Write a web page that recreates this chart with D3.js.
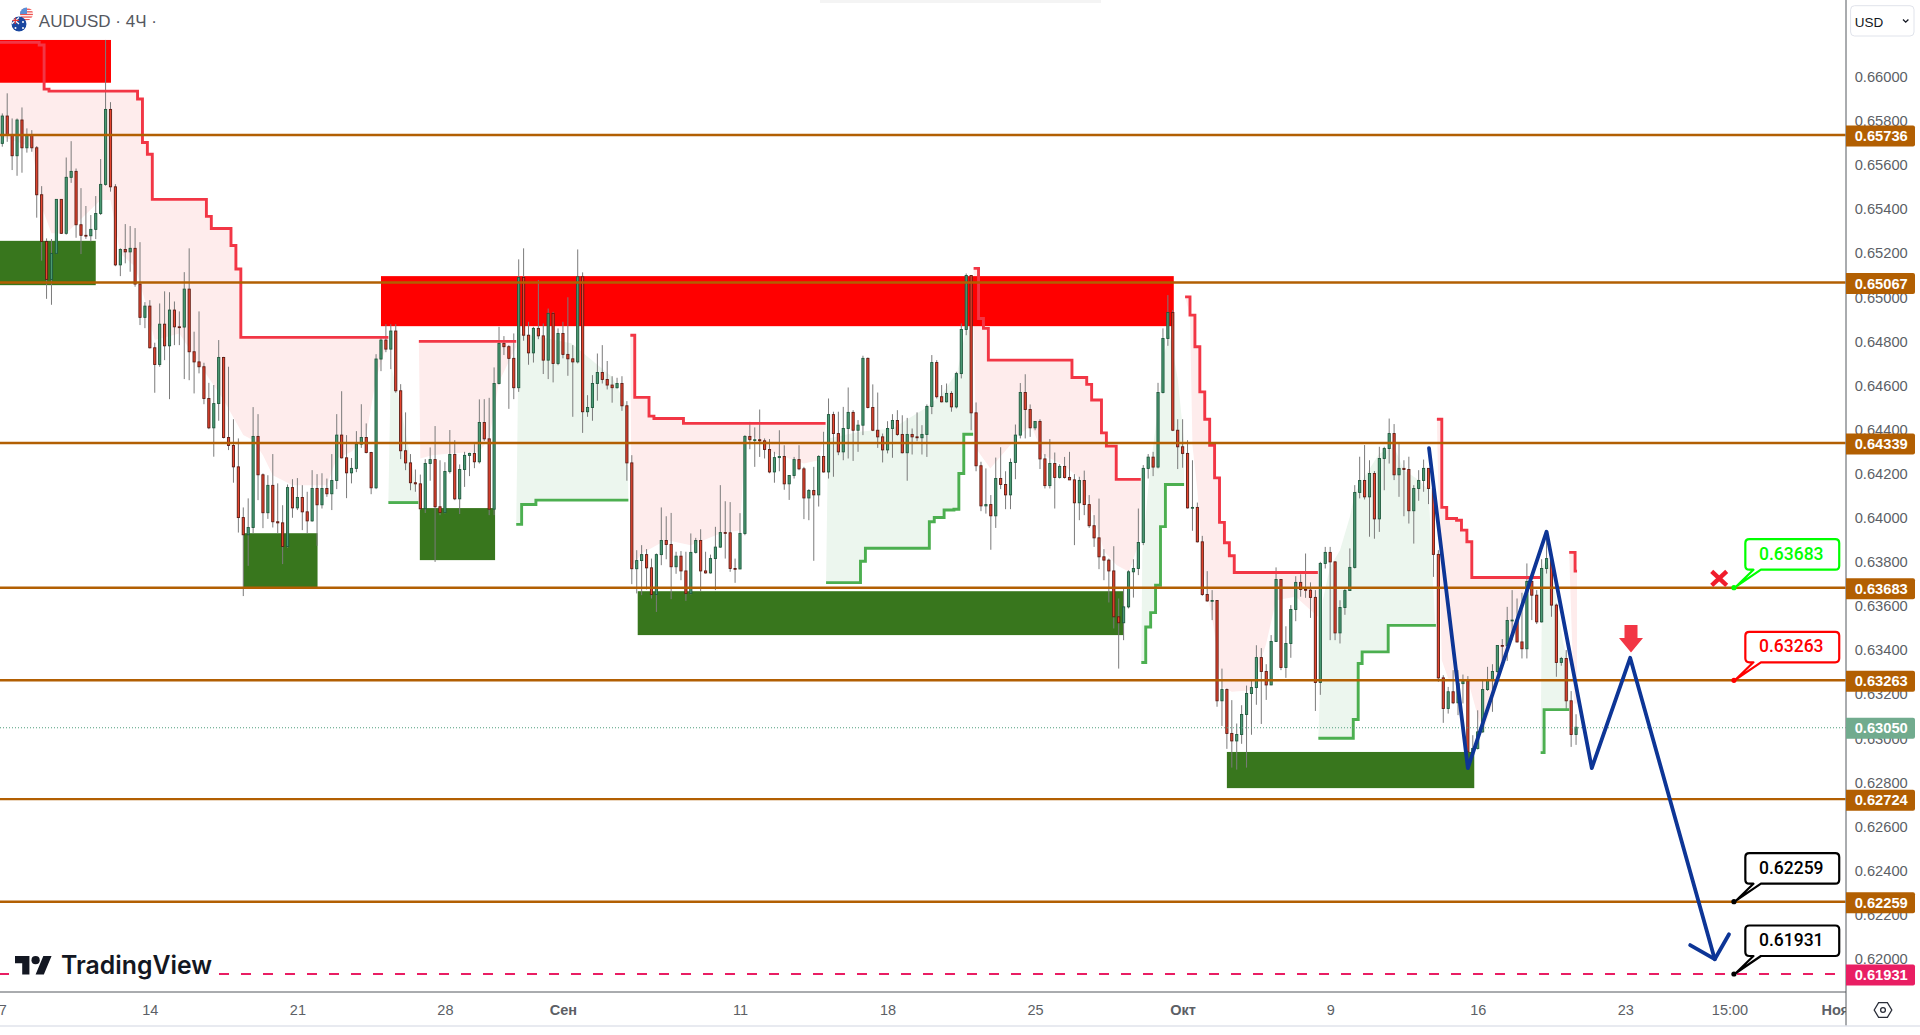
<!DOCTYPE html>
<html><head><meta charset="utf-8">
<script src="https://cdn.jsdelivr.net/npm/d3@7/dist/d3.min.js"></script>
<style>
html,body{margin:0;padding:0;background:#fff;overflow:hidden}
svg{display:block;font-family:"Liberation Sans",Arial,sans-serif}
</style></head><body><svg id="c" width="1920" height="1035"></svg>
<script>
// All prices are in units of 0.00001 (65736 = 0.65736). Bars are indexed in 4-hour steps.
const firstOpen = 65698;
const closes = [
65822,65736,65642,65804,65678,65736,65678,65465,65253,65081,
65199,65444,65290,65544,65571,65329,65281,65279,65308,65380,
65512,65852,65501,65147,65217,65206,65222,65060,64909,64960,
64771,64695,64878,64780,64942,64866,64865,65037,64753,64707,
64685,64541,64408,64518,64727,64364,64328,64231,64001,63923,
63956,64369,64195,64023,64147,63982,63977,63870,64137,64045,
64092,64027,63986,64133,64059,64133,64109,64169,64375,64272,
64204,64224,64334,64364,64296,64136,64720,64806,64765,64847,
64576,64304,64249,64159,64154,64041,64246,64264,64050,64024,
64210,64287,64086,64219,64283,64292,64254,64432,64358,64039,
64609,64791,64776,64723,64590,65090,64828,64748,64859,64825,
64715,64927,64700,64836,64741,64721,64707,65093,64481,64500,
64609,64659,64627,64602,64590,64609,64508,64249,63769,63806,
63833,63773,63652,63833,63897,63879,63778,63826,63759,63657,
63843,63897,63759,63750,63815,63867,63933,63932,63770,63768,
63929,64369,64354,64354,64349,64310,64208,64273,64278,64154,
64192,64264,64222,64090,64124,64104,64278,64208,64468,64382,
64299,64405,64478,64397,64420,64723,64500,64397,64367,64308,
64405,64441,64378,64295,64378,64367,64363,64378,64505,64704,
64549,64526,64564,64503,64654,64854,65099,64476,64236,64054,
64060,64009,64178,64151,64104,64251,64375,64568,64491,64408,
64437,64267,64146,64246,64183,64233,64183,64172,64068,64169,
64060,63964,63909,63823,63808,63759,63551,63524,63596,63755,
63770,63888,64224,64275,64230,64568,64813,64931,64397,64322,
64292,64045,64047,63891,63652,63623,63625,63170,63221,63022,
62988,63017,63108,63203,63230,63366,63303,63242,63439,63720,
63321,63430,63584,63707,63675,63672,63639,63253,63793,63843,
63800,63478,63593,63670,63775,64115,64169,64095,64201,63995,
64269,64314,64382,64195,64224,64219,64032,64133,64169,64224,
64133,63834,63274,63135,63211,63161,63248,63259,62938,62954,
63029,63221,63264,63303,63421,63419,63534,63536,63437,63406,
63711,63649,63528,63770,63815,63604,63344,63362,63170,63017,63050];
const highs = [
65834,65925,65811,65811,65861,65766,65758,65686,65504,65267,
65264,65444,65444,65634,65708,65584,65495,65414,65373,65459,
65627,66167,65885,65513,65222,65332,65323,65314,65250,64978,
64987,64794,64972,65027,65023,64981,64936,65114,65222,64844,
64936,64703,64612,64602,64806,64730,64685,64447,64360,64047,
64088,64502,64470,64201,64193,64289,64156,64057,64151,64175,
64180,64148,64118,64216,64198,64202,64178,64289,64470,64574,
64375,64271,64393,64515,64428,64299,64742,64824,64878,64878,
64878,64606,64478,64289,64219,64196,64266,64319,64416,64261,
64252,64398,64352,64242,64299,64295,64334,64537,64538,64544,
64682,64866,64824,64783,64836,65172,65222,64889,64866,65078,
64881,64949,64934,64859,64889,65000,64783,65217,65113,64556,
64647,64745,64783,64711,64642,64635,64642,64529,64284,63853,
63876,63858,63815,63838,64047,64007,64022,63846,63849,63846,
63929,63909,63948,63846,63833,63959,64148,64075,64071,63815,
64021,64375,64435,64410,64491,64360,64357,64299,64397,64329,
64193,64276,64329,64231,64130,64231,64284,64390,64541,64481,
64481,64503,64591,64488,64443,64735,64727,64605,64568,64382,
64438,64470,64488,64465,64453,64405,64478,64420,64514,64738,
64715,64602,64609,64574,64662,64881,65108,65099,64523,64254,
64224,64103,64273,64320,64211,64269,64423,64611,64651,64514,
64437,64447,64289,64357,64296,64243,64276,64299,64198,64186,
64214,64103,64012,64087,63858,63815,63871,63634,63679,63762,
63812,64042,64239,64289,64299,64612,64859,65010,64942,64447,
64447,64352,64261,64069,63918,63758,63672,63626,63316,63226,
63173,63067,63150,63239,63260,63422,63409,63336,63468,63775,
63722,63508,63604,63735,63744,63838,63707,63672,63800,63868,
63868,63803,63626,63679,63861,64148,64277,64330,64261,64212,
64322,64322,64450,64425,64337,64261,64277,64148,64216,64264,
64224,64133,63853,63286,63233,63309,63309,63289,63282,63014,
63127,63264,63324,63336,63422,63450,63596,63672,63634,63660,
63793,63714,63672,63812,63944,63823,63611,63369,63400,63214,63109];
const lows = [
65683,65705,65577,65551,65565,65656,65660,65361,65166,64993,
64966,65196,65287,65284,65519,65270,65196,65265,65253,65264,
65373,65506,65479,65141,65096,65154,65116,65048,64874,64860,
64768,64567,64685,64715,64538,64783,64783,64629,64624,64564,
64655,64515,64402,64277,64440,64360,64307,64159,63933,63645,
63782,63929,64080,63953,63995,63956,63929,63790,63864,64000,
64035,63944,63929,63982,63873,64042,64095,64035,64130,64269,
64089,64156,64207,64317,64292,64107,64130,64665,64751,64674,
64567,64266,64216,64125,64118,64035,64022,64168,63800,64012,
64020,64201,64080,64017,64140,64189,64225,64246,64348,64012,
64012,64605,64738,64494,64538,64571,64803,64694,64704,64810,
64652,64629,64614,64692,64723,64644,64458,64700,64385,64458,
64440,64531,64609,64582,64522,64586,64485,64168,63699,63657,
63649,63675,63634,63573,63785,63812,63631,63746,63717,63623,
63652,63838,63667,63747,63747,63672,63864,63815,63755,63705,
63767,63921,64311,64231,64276,64269,64202,64159,64211,64127,
64081,64178,64216,63994,63989,63805,64051,64205,64178,64186,
64284,64261,64269,64258,64299,64375,64496,64393,64317,64251,
64292,64272,64372,64292,64168,64287,64347,64287,64276,64470,
64541,64523,64523,64481,64496,64632,64828,64397,64211,64030,
64019,63855,63954,64130,64039,64039,64175,64360,64360,64367,
64397,64221,64133,64133,64042,64178,64178,64171,63876,63989,
64012,63954,63868,63767,63717,63616,63498,63316,63445,63589,
63638,63740,63876,64178,64189,64224,64564,64780,64393,64221,
64227,64042,63941,63888,63646,63619,63536,63143,63056,62952,
62867,62858,62975,62867,63016,63152,63065,63174,63241,63437,
63309,63274,63365,63531,63642,63637,63546,63124,63197,63770,
63445,63445,63430,63560,63669,63770,64088,64083,63914,63905,
63936,64125,64246,64171,64095,64007,63974,63883,64077,64118,
64062,63732,63256,63070,63112,63155,63105,63158,62931,62931,
62949,63025,63215,63120,63294,63351,63351,63445,63434,63362,
63362,63536,63518,63525,63747,63551,63279,63329,63127,62961,62970];

// stop lines: [bar, level], last entry closes the run
const redA=[[-2,66156],[7.5,66144],[8.5,65944],[9.5,65935],[27.5,65899],[28.5,65702],[29.5,65649],[30.5,65444],[41.5,65367],[42.5,65312],[46.5,65235],[47.5,65128],[48.5,64818],[78.5,64818]];
const redB=[[84.7,64800],[104.5,64800]];
const redC=[[127.7,64828],[128.6,64546],[131.5,64461],[132.5,64450],[138.5,64428],[167.4,64428]];
const redD=[[197.5,65131],[198.5,64904],[199.5,64859],[200.5,64715],[217.5,64636],[220.5,64605],[221.5,64534],[223.5,64385],[224.5,64325],[226.5,64174],[231.5,64174]];
const redE=[[240.5,65002],[241.5,64919],[242.5,64776],[243.5,64571],[244.5,64447],[245.5,64329],[246.5,64181],[247.5,63979],[248.5,63887],[249.5,63828],[250.5,63752],[267.5,63752]];
const redF=[[291.7,64447],[292.7,64047],[293.7,63997],[295.7,63989],[296.7,63944],[297.8,63891],[298.8,63729],[312.7,63729]];
const redG=[[318.6,63843],[319.8,63758],[320.2,63758]];
const greenA=[[78.5,64069],[84.6,64069]];
const greenB=[[104.5,63970],[105.6,64060],[108.5,64080],[127.3,64080]];
const greenC=[[167.5,63706],[174.5,63803],[175.5,63862],[188.5,63982],[189.5,64001],[191.5,64035],[193.5,64039],[194.5,64201],[195.5,64379],[197.4,64379]];
const greenD=[[231.6,63344],[232.5,63505],[233.5,63570],[234.5,63694],[235.5,63960],[236.5,64151],[240.3,64151]];
const greenE=[[267.6,63000],[274.7,63085],[275.7,63339],[276.5,63392],[281.8,63512],[291.5,63512]];
const greenF=[[312.8,62935],[313.5,63130],[318.6,63130]];

// far edge of the tinted bands: [bar, price]
const pinkA=[[-2,65743],[6,65683],[8,65411],[10,65290],[13,65290],[20,65441],[22,65441],[24,65199],[27,65138],[29,64987],[31,64806],[36,64836],[40,64700],[45,64534],[49,64375],[51,64352],[53,64284],[55,64193],[59,64148],[66,64148],[68,64269],[71,64299],[74,64375],[76,64632],[78.5,64806]];
const pinkB=[[85,64269],[87.4,64284],[91,64292],[97,64299],[99,64360],[101,64617],[104.5,64776]];
const pinkC=[[128,63778],[130,63838],[135,63899],[140,63876],[146,63929],[150,63944],[151,64352],[153,64367],[157,64292],[163,64246],[166,64261],[167.4,64413]];
const pinkD=[[197.5,64851],[198,64314],[200.9,64224],[206.7,64375],[209.2,64420],[211.7,64284],[215.8,64239],[219.1,64178],[221.6,64027],[224.1,63846],[226.6,63785],[229.1,63755],[231.2,63891]];
const pinkE=[[241.5,64919],[242,64329],[243,64125],[244,63808],[245,63657],[246.3,63505],[248,63233],[250,63211],[254,63218],[257,63430],[259,63626],[263,63642],[267.5,63551]];
const pinkF=[[292.7,63354],[294,63271],[298,63264],[301,63022],[303,63158],[307,63505],[310,63717],[312.7,63725]];
const pinkG=[[319.6,63158],[320.2,63158]];
const tintA=[[79,64692],[80.4,64571],[82.5,64329],[84,64148]];
const tintB=[[105,64836],[109,64821],[115.7,64791],[124,64639],[127,64503]];
const tintC=[[167.9,64360],[174.3,64390],[181,64405],[187.6,64496],[190.9,64556],[194.2,64662],[195.9,64851],[197.1,64851]];
const tintD=[[231.8,63846],[233.2,64178],[234.9,64481],[236.1,64738],[237.4,64828],[239,64632],[240.3,64345]];
const tintE=[[268.5,63626],[270,63778],[272,63853],[274,64004],[275,64110],[277,64186],[280,64292],[283,64322],[285,64216],[288,64171],[290,64125],[291.3,63536]];
const tintF=[[313.1,63778],[314,63808],[315.1,63747],[316.2,63596],[317.4,63430],[318.5,63339]];

// zones: bar from, bar to, price top, price bottom
const supplyZones=[[-2,22.1,66167,65973],[77,238.2,65096,64869]];
const demandZones=[[-2,19,65256,65055],[49,64.1,63930,63681],[84.9,100.2,64044,63808],[129.2,228,63667,63468],[249,299.3,62938,62774]];

const levels=[65736,65067,64339,63683,63263,62724,62259];
const targetLevel=61931;
const lastPrice=63050;
const forecast=[[290.1,64316],[298,62865],[314,63937],[323.2,62865],[331,63365],[348.2,61998]];
const forecastHead=[[343.2,62062],[348.2,61998],[351.1,62111]];
const callouts=[[63683,"#00ff00"],[63263,"#ff0000"],[62259,"#000000"],[61931,"#000000"]];
const calloutBar=352.1;
const yTicks=[66000,65800,65600,65400,65200,65000,64800,64600,64400,64200,64000,63800,63600,63400,63200,63000,62800,62600,62400,62200,62000];
const xTickBars=[0,30,60,90,114,150,180,210,240,270,300,330,351.2,372.6];
const xTickLabels=["7","14","21","28","Сен","11","18","25","Окт","9","16","23","15:00","Ноя"];
const boldTicks=["Сен","Окт","Ноя"];
const title="AUDUSD · 4Ч ·";

const x=d3.scaleLinear().domain([0,300]).range([2.3,1477.7]);
const y=d3.scaleLinear().domain([65736,61931]).range([135,974]);
const axisX=1846, axisY=992;
const svg=d3.select("#c");
const defs=svg.append("defs");
defs.append("clipPath").attr("id","plot").append("rect").attr("x",0).attr("y",0).attr("width",axisX-0.5).attr("height",axisY);
defs.append("clipPath").attr("id","au").append("circle").attr("cx",19).attr("cy",24).attr("r",7.5);
defs.append("clipPath").attr("id","us").append("circle").attr("cx",26.5).attr("cy",14).attr("r",6.5);

svg.append("rect").attr("x",820).attr("y",0).attr("width",281).attr("height",3).attr("fill","#f4f4f4");
const plot=svg.append("g").attr("clip-path","url(#plot)");
const ln=d3.line().x(d=>x(d[0])).y(d=>y(d[1]));
const stepLn=d3.line().x(d=>x(d[0])).y(d=>y(d[1])).curve(d3.curveStepAfter);

function band(stop,edge,fill){
  const pts=[];
  stop.forEach((d,k)=>{ if(k) pts.push([d[0],stop[k-1][1]]); pts.push(d); });
  const poly=pts.concat(edge.slice().reverse());
  plot.append("path").attr("d",ln(poly)+"Z").attr("fill",fill);
}
const PINK="#feecec", TINT="#ecf6ee";
[[redA,pinkA],[redB,pinkB],[redC,pinkC],[redD,pinkD],[redE,pinkE],[redF,pinkF],[redG,pinkG]].forEach(b=>band(b[0],b[1],PINK));
[[greenA,tintA],[greenB,tintB],[greenC,tintC],[greenD,tintD],[greenE,tintE],[greenF,tintF]].forEach(b=>band(b[0],b[1],TINT));

const zone=(list,col)=>plot.append("g").selectAll("rect").data(list).join("rect")
  .attr("x",d=>x(d[0])).attr("width",d=>x(d[1])-x(d[0]))
  .attr("y",d=>y(d[2])).attr("height",d=>y(d[3])-y(d[2])).attr("fill",col);
zone(supplyZones,"#ff0000");
zone(demandZones,"#38761d");

const bars=closes.map((c,i)=>({i,o:i?closes[i-1]:firstOpen,c,h:highs[i],l:lows[i]}));
plot.append("g").selectAll("line").data(bars).join("line")
  .attr("x1",d=>x(d.i)).attr("x2",d=>x(d.i)).attr("y1",d=>y(d.h)).attr("y2",d=>y(d.l))
  .attr("stroke","#7b7b7b").attr("stroke-width",1);
plot.append("g").selectAll("rect").data(bars).join("rect")
  .attr("x",d=>x(d.i)-1.1).attr("width",2.2)
  .attr("y",d=>y(Math.max(d.o,d.c))).attr("height",d=>Math.max(0.8,Math.abs(y(d.o)-y(d.c))))
  .attr("fill",d=>d.c>=d.o?"#4b9a74":"#e6452f")
  .attr("stroke",d=>d.c>=d.o?"#1f5a3e":"#5e1c14").attr("stroke-width",0.9);

[redA,redB,redC,redD,redE,redF,redG].forEach(s=>plot.append("path").attr("d",stepLn(s)).attr("fill","none").attr("stroke","#f23645").attr("stroke-width",2.9));
[greenA,greenB,greenC,greenD,greenE,greenF].forEach(s=>plot.append("path").attr("d",stepLn(s)).attr("fill","none").attr("stroke","#4caf50").attr("stroke-width",2.9));

// level lines
plot.append("line").attr("x1",0).attr("x2",axisX).attr("y1",y(lastPrice)+0.5).attr("y2",y(lastPrice)+0.5)
  .attr("stroke","#4f9e7c").attr("stroke-width",1).attr("stroke-dasharray","1 2");
plot.append("g").selectAll("line").data(levels).join("line")
  .attr("x1",0).attr("x2",axisX).attr("y1",d=>y(d)).attr("y2",d=>y(d))
  .attr("stroke","#b25f02").attr("stroke-width",2.4);
plot.append("line").attr("x1",-1).attr("x2",axisX-6).attr("y1",y(targetLevel)).attr("y2",y(targetLevel))
  .attr("stroke","#e91e63").attr("stroke-width",2.2).attr("stroke-dasharray","10 12");

// logo
const logo=plot.append("g");
logo.append("rect").attr("x",10).attr("y",966).attr("width",208).attr("height",16).attr("fill","#fff");
const mark=logo.append("g").attr("transform","translate(15,951.9) scale(1.03)").attr("fill","#131722");
mark.append("path").attr("d","M14 22H7V11H0V4h14v18zM28 22h-8l7.5-18h8L28 22z");
mark.append("circle").attr("cx",20).attr("cy",8).attr("r",4);
logo.append("text").attr("x",61).attr("y",974).attr("font-family","Inter").attr("font-weight",600)
  .attr("font-size",25).attr("textLength",151).attr("lengthAdjust","spacingAndGlyphs").attr("fill","#131722").text("TradingView");

// forecast path
const blue="#0d3596";
plot.append("path").attr("d",ln(forecast)).attr("fill","none").attr("stroke",blue).attr("stroke-width",3.8).attr("stroke-linejoin","round").attr("stroke-linecap","round");
plot.append("path").attr("d",ln(forecastHead)).attr("fill","none").attr("stroke",blue).attr("stroke-width",3.8).attr("stroke-linejoin","round").attr("stroke-linecap","round");

// red cross and arrow
const cross=plot.append("g").attr("transform","translate(1719.2,578.3)").attr("stroke","#f01c2c").attr("stroke-width",4.4);
cross.append("line").attr("x1",-7.5).attr("y1",-7).attr("x2",7.5).attr("y2",7);
cross.append("line").attr("x1",7.5).attr("y1",-7).attr("x2",-7.5).attr("y2",7);
plot.append("path").attr("d","M1624.5 625H1637.5V638H1643L1631 652.5L1619 638H1624.5Z").attr("fill","#f23645");

// callouts
callouts.forEach(([p,col])=>{
  const ax=x(calloutBar), ay=y(p);
  const g=plot.append("g").attr("transform",`translate(${ax},${ay})`);
  const l=11.4,r=105.3,t=-48.5,b=-18,q=4;
  g.append("path").attr("d",`M${l+q} ${t}H${r-q}Q${r} ${t} ${r} ${t+q}V${b-q}Q${r} ${b} ${r-q} ${b}H27L2 -1L19.5 ${b}H${l+q}Q${l} ${b} ${l} ${b-q}V${t+q}Q${l} ${t} ${l+q} ${t}Z`)
    .attr("fill","#fff").attr("stroke",col).attr("stroke-width",2.2).attr("stroke-linejoin","round");
  g.append("circle").attr("r",2.6).attr("fill",col);
  g.append("text").attr("x",(l+r)/2-1).attr("y",t+20.5).attr("text-anchor","middle").attr("font-family","Roboto").attr("font-weight",500)
    .attr("font-size",17.5).attr("fill",col).text((p/1e5).toFixed(5));
});

// price axis
const yAxis=svg.append("g").attr("transform",`translate(${axisX},0)`)
  .call(d3.axisRight(y).tickValues(yTicks).tickSize(0).tickPadding(8.7).tickFormat(d=>(d/1e5).toFixed(5)));
yAxis.select(".domain").remove();
yAxis.selectAll("text").attr("font-size",14.7).attr("font-family","Liberation Sans").attr("fill","#5c5f66");
// time axis
const xAxis=svg.append("g").attr("transform",`translate(0,${axisY})`)
  .call(d3.axisBottom(x).tickValues(xTickBars).tickSize(0).tickPadding(12.5).tickFormat((d,i)=>xTickLabels[i]));
xAxis.select(".domain").remove();
xAxis.selectAll("text").attr("font-size",14.5).attr("font-family","Liberation Sans").attr("fill","#5c5f66")
  .attr("font-weight",function(){return boldTicks.includes(this.textContent)?700:400;});
// the last time label is cut off by the price axis
svg.append("rect").attr("x",axisX).attr("y",axisY+1).attr("width",74).attr("height",33).attr("fill","#fff");

svg.append("line").attr("x1",0).attr("x2",axisX).attr("y1",axisY).attr("y2",axisY).attr("stroke","#55585f").attr("stroke-width",1);
svg.append("line").attr("x1",axisX).attr("x2",axisX).attr("y1",0).attr("y2",1026).attr("stroke","#55585f").attr("stroke-width",1);
svg.append("line").attr("x1",0).attr("x2",1920).attr("y1",1026).attr("y2",1026).attr("stroke","#e0e3eb").attr("stroke-width",1.5);

// axis price tags
const tags=levels.map(p=>[p,"#b25f02"]).concat([[lastPrice,"#71ab8e"],[targetLevel,"#e91e63"]]);
tags.forEach(([p,col])=>{
  const cy=y(p)+1;
  svg.append("path").attr("d",`M${axisX} ${cy-10.5}H1913a2 2 0 0 1 2 2V${cy+8.5}a2 2 0 0 1 -2 2H${axisX}Z`).attr("fill",col);
  svg.append("text").attr("x",1854.7).attr("y",cy+5.2).attr("font-size",14.7).attr("font-weight",700).attr("fill","#fff")
    .attr("font-family","Liberation Sans").text((p/1e5).toFixed(5));
});

// currency button
svg.append("rect").attr("x",1850.6).attr("y",5.7).attr("width",63.4).attr("height",30.3).attr("rx",4).attr("fill","#fff").attr("stroke","#e0e3eb");
svg.append("text").attr("x",1854.7).attr("y",26.5).attr("font-size",13.5).attr("fill","#131722").text("USD");
svg.append("path").attr("d","M1903 19.5l2.7 2.7l2.7-2.7").attr("fill","none").attr("stroke","#131722").attr("stroke-width",1.3);

// settings icon
svg.append("path").attr("d","M1874.2 1010l4.4-7.3h8.8l4.4 7.3l-4.4 7.3h-8.8Z").attr("fill","none").attr("stroke","#2a2e39").attr("stroke-width",1.3);
svg.append("circle").attr("cx",1883).attr("cy",1010).attr("r",2.4).attr("fill","none").attr("stroke","#2a2e39").attr("stroke-width",1.3);

// title and flags
const us=svg.append("g").attr("clip-path","url(#us)");
us.append("circle").attr("cx",26.5).attr("cy",14).attr("r",7).attr("fill","#fff");
[8.6,11.2,13.8,16.4,19].forEach(v=>us.append("rect").attr("x",20).attr("y",v).attr("width",14).attr("height",1.3).attr("fill","#ef5350"));
us.append("rect").attr("x",20).attr("y",7).attr("width",7).attr("height",7).attr("fill","#5b8fd6");
const au=svg.append("g").attr("clip-path","url(#au)");
au.append("circle").attr("cx",19).attr("cy",24).attr("r",8).attr("fill","#1a47a0");
au.append("path").attr("d","M11.5 17.5L19 24M19 17.5L11.5 24").attr("stroke","#fff").attr("stroke-width",1.2);
au.append("path").attr("d","M15.2 16.5V24M11.5 20.4H19").attr("stroke","#e53935").attr("stroke-width",1.2);
au.append("circle").attr("cx",15.5).attr("cy",28).attr("r",1).attr("fill","#fff");
au.append("circle").attr("cx",23).attr("cy",22).attr("r",1).attr("fill","#fff");
au.append("circle").attr("cx",23).attr("cy",28).attr("r",1).attr("fill","#fff");
svg.append("text").attr("x",38.8).attr("y",27.3).attr("font-size",17).attr("fill","#55585f").text(title);
</script></body></html>
